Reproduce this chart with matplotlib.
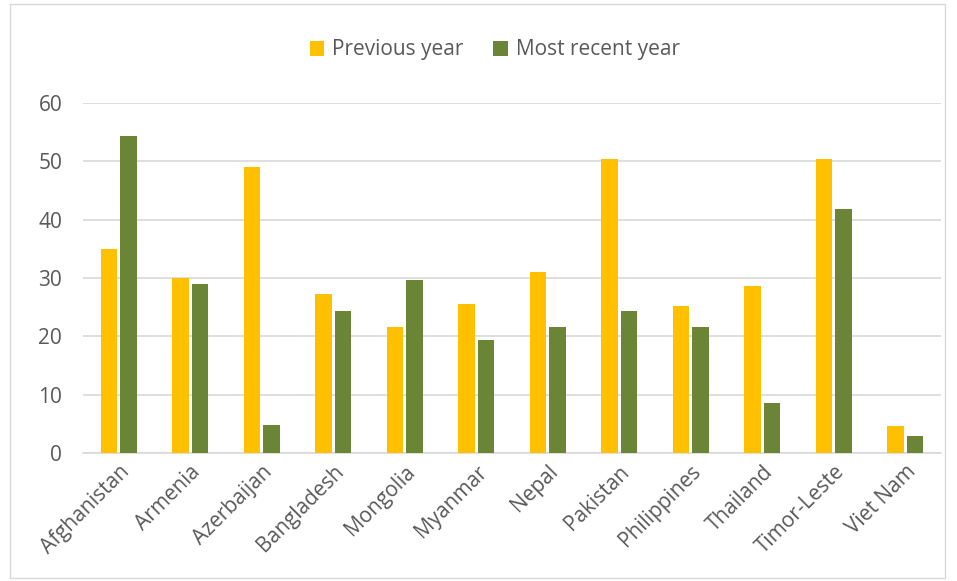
import matplotlib.pyplot as plt
import numpy as np
from matplotlib.patches import Rectangle

countries = ["Afghanistan", "Armenia", "Azerbaijan", "Bangladesh", "Mongolia", "Myanmar",
             "Nepal", "Pakistan", "Philippines", "Thailand", "Timor-Leste", "Viet Nam"]
previous_year = [35.0, 30.0, 49.0, 27.2, 21.6, 25.6, 31.0, 50.4, 25.2, 28.6, 50.4, 4.7]
recent_year = [54.4, 29.0, 4.8, 24.3, 29.6, 19.4, 21.6, 24.3, 21.6, 8.6, 41.8, 3.0]

plt.rcParams['font.family'] = ['Open Sans', 'DejaVu Sans']

fig = plt.figure(figsize=(9.57, 5.81), dpi=100)
ax = fig.add_axes([83 / 957, 1 - 453 / 581, (941 - 83) / 957, (453 - 103) / 581])

# chart border
fig.patches.append(Rectangle((10 / 957, 3 / 581), 935 / 957, 574 / 581, transform=fig.transFigure,
                             fill=False, edgecolor="#d9d9d9", linewidth=1))

x = np.arange(len(countries))
w = 0.23
ax.bar(x - 0.135, previous_year, w, color="#ffc000", label="Previous year", zorder=3)
ax.bar(x + 0.135, recent_year, w, color="#6b8536", label="Most recent year", zorder=3)

ax.set_xlim(-0.5, len(countries) - 0.5)
ax.set_ylim(0, 60)
ax.set_yticks(range(0, 61, 10))
ax.grid(axis="y", color="#d9d9d9", linewidth=1.2, zorder=0)
for s in ["top", "right", "left"]:
    ax.spines[s].set_visible(False)
ax.spines["bottom"].set_color("#d9d9d9")
ax.spines["bottom"].set_linewidth(1.2)
ax.tick_params(length=0, labelsize=15, labelcolor="#595959")
ax.tick_params(axis="y", pad=15)
ax.tick_params(axis="x", pad=6)
ax.set_xticks(x)
ax.set_xticklabels(countries, rotation=45, ha="right", rotation_mode="anchor")

fig.legend(loc="center", bbox_to_anchor=(0.517, 1 - 50 / 581), ncol=2, frameon=False,
           fontsize=15, labelcolor="#595959", handlelength=0.7, handleheight=0.7,
           columnspacing=1.4, handletextpad=0.4)

fig.savefig("out.png", dpi=100)
